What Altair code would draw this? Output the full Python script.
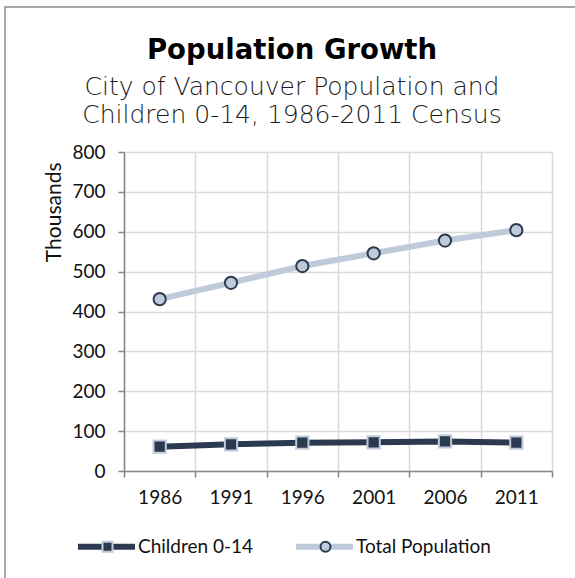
import altair as alt
import pandas as pd

# Census years and populations (thousands)
years = [1986, 1991, 1996, 2001, 2006, 2011]
children = [61, 67, 71, 72, 74, 71]
total = [431, 472, 514, 546, 578, 604]
series_names = ["Children 0-14", "Total Population"]
y_ticks = [0, 100, 200, 300, 400, 500, 600, 700, 800]

DARK = "#2C3A4F"
LIGHT = "#BFCADB"
AXIS_GREY = "#868686"
GRID_GREY = "#D9D9D9"
LABEL_FONT = "Lato"

df = pd.DataFrame({
    "year": years * 2,
    "value": children + total,
    "series": [series_names[0]] * len(years) + [series_names[1]] * len(years),
})
df["marker"] = df["series"]

# category boundaries (half way between census years) carry ticks and grid
half = (years[1] - years[0]) / 2
boundaries = [y - half for y in years] + [years[-1] + half]

x_scale = alt.Scale(domain=[boundaries[0], boundaries[-1]], nice=False, zero=False)
y_scale = alt.Scale(domain=[0, 800], nice=False, zero=True)

y_axis = alt.Axis(
    values=y_ticks, title="Thousands", grid=True, gridColor=GRID_GREY, gridWidth=1.5,
    domain=True, domainColor=AXIS_GREY, domainWidth=1.5,
    ticks=True, tickSize=6, tickColor=AXIS_GREY, tickWidth=1.5,
    labelFont=LABEL_FONT, labelFontSize=19, labelColor="#111111", labelPadding=13,
    titleFont=LABEL_FONT, titleFontSize=21, titleFontWeight="normal", titleColor="#111111",
    titleAngle=270, titleAlign="right", titleBaseline="alphabetic", titleX=-64, titleY=10,
)

lines = alt.Chart(df).mark_line(strokeWidth=6).encode(
    x=alt.X("year:Q", scale=x_scale, axis=alt.Axis(
        values=boundaries, labels=False, title=None, orient="bottom",
        grid=True, gridColor=GRID_GREY, gridWidth=1.5,
        domain=True, domainColor=AXIS_GREY, domainWidth=1.5,
        ticks=True, tickSize=6, tickColor=AXIS_GREY, tickWidth=1.5)),
    y=alt.Y("value:Q", scale=y_scale, axis=y_axis),
    color=alt.Color("series:N", scale=alt.Scale(range=[DARK, LIGHT]), legend=alt.Legend(
        title=None, orient="none", direction="horizontal", legendX=-49, legendY=363,
        symbolType="stroke", symbolSize=3249, symbolStrokeWidth=6,
        symbolOffset=0, labelOffset=0, columnPadding=30, padding=0,
        labelFont=LABEL_FONT, labelFontSize=19, labelColor="#111111")),
)

# marker legend sits on top of the line legend; its labels stay empty
points = alt.Chart(df).mark_point(filled=True, size=150, opacity=1, strokeWidth=2).encode(
    x=alt.X("year:Q", scale=x_scale, axis=alt.Axis(
        values=years, format="d", title=None, orient="bottom",
        grid=False, domain=False, ticks=False, tickSize=0,
        labelFont=LABEL_FONT, labelFontSize=19, labelColor="#111111", labelPadding=17)),
    y=alt.Y("value:Q", scale=y_scale, axis=y_axis),
    shape=alt.Shape("marker:N", scale=alt.Scale(range=["square", "circle"]), legend=alt.Legend(
        title=None, orient="none", direction="horizontal", legendX=-48, legendY=385,
        symbolSize=100, symbolStrokeWidth=2, symbolOffset=22, labelOffset=44,
        columnPadding=133, padding=0, labelExpr="''",
        labelFont=LABEL_FONT, labelFontSize=19)),
    fill=alt.Fill("marker:N", scale=alt.Scale(range=[DARK, LIGHT]), legend=None),
    stroke=alt.Stroke("marker:N", scale=alt.Scale(range=[LIGHT, DARK]), legend=None),
)

# outer frame around the figure
frame = alt.Chart(pd.DataFrame({"frame": [0]})).mark_rect(
    fill="transparent", stroke="#8C8C8C", strokeWidth=1.5
).encode(
    x=alt.value(-119), y=alt.value(-145), x2=alt.value(700), y2=alt.value(700)
)

chart = alt.layer(frame, lines, points).resolve_axis(x="independent").properties(
    width=428,
    height=319,
    autosize=alt.AutoSizeParams(type="none"),
    padding={"left": 124, "top": 152, "right": 23, "bottom": 107},
    background="white",
    title=alt.TitleParams(
        text="Population Growth",
        subtitle=["City of Vancouver Population and", "Children 0-14, 1986-2011 Census"],
        anchor="middle", frame="group", dx=-46, dy=140, offset=18,
        font="DejaVu Sans", fontSize=27.5, fontWeight="bold", color="#000000",
        subtitleFont="DejaVu Sans", subtitleFontSize=25, subtitleFontWeight=200,
        subtitleColor="#1a1a1a", subtitleLineHeight=28, subtitlePadding=11,
    ),
).configure_view(stroke=None)

chart.save("out.html", embed_options={"renderer": "svg", "actions": False})
